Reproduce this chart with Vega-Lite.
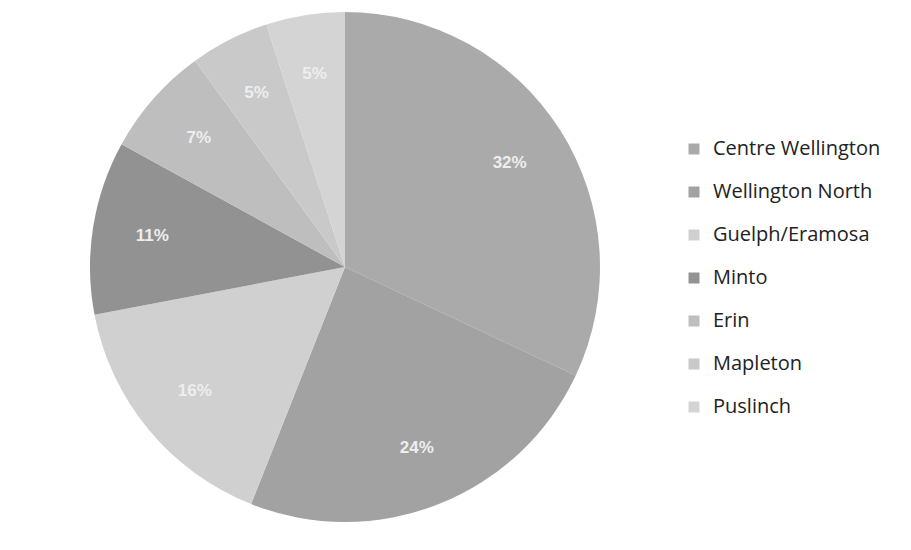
{
  "$schema": "https://vega.github.io/schema/vega-lite/v6.json",
  "width": 674,
  "height": 512,
  "padding": {"left": 8, "top": 11, "right": 229, "bottom": 27},
  "autosize": {"type": "none"},
  "background": "white",
  "config": {"view": {"stroke": null}},
  "data": {
    "values": [
      {"name": "Centre Wellington", "value": 32, "order": 1, "label": "32%"},
      {"name": "Wellington North", "value": 24, "order": 2, "label": "24%"},
      {"name": "Guelph/Eramosa", "value": 16, "order": 3, "label": "16%"},
      {"name": "Minto", "value": 11, "order": 4, "label": "11%"},
      {"name": "Erin", "value": 7, "order": 5, "label": "7%"},
      {"name": "Mapleton", "value": 5, "order": 6, "label": "5%"},
      {"name": "Puslinch", "value": 5, "order": 7, "label": "5%"}
    ]
  },
  "encoding": {
    "theta": {"field": "value", "type": "quantitative", "stack": true},
    "order": {"field": "order", "type": "quantitative"}
  },
  "layer": [
    {
      "mark": {"type": "arc", "outerRadius": 255},
      "encoding": {
        "color": {
          "field": "name",
          "type": "nominal",
          "scale": {
            "domain": ["Centre Wellington", "Wellington North", "Guelph/Eramosa", "Minto", "Erin", "Mapleton", "Puslinch"],
            "range": ["#aaaaaa", "#a2a2a2", "#d0d0d0", "#929292", "#bebebe", "#c9c9c9", "#d4d4d4"]
          },
          "legend": {
            "orient": "none",
            "legendX": 676,
            "legendY": 128,
            "padding": 0,
            "title": null,
            "symbolType": "square",
            "symbolSize": 121,
            "symbolStrokeWidth": 0,
            "labelFont": "Open Sans",
            "labelFontSize": 20,
            "labelColor": "#222222",
            "labelOffset": 9,
            "labelLimit": 300,
            "rowPadding": 23
          }
        }
      }
    },
    {
      "mark": {"type": "text", "radius": 195, "fontSize": 17, "fontWeight": "bold", "font": "Liberation Sans", "fill": "#eeeeee"},
      "encoding": {
        "detail": {"field": "name", "type": "nominal"},
        "text": {"field": "label", "type": "nominal"}
      }
    }
  ]
}
